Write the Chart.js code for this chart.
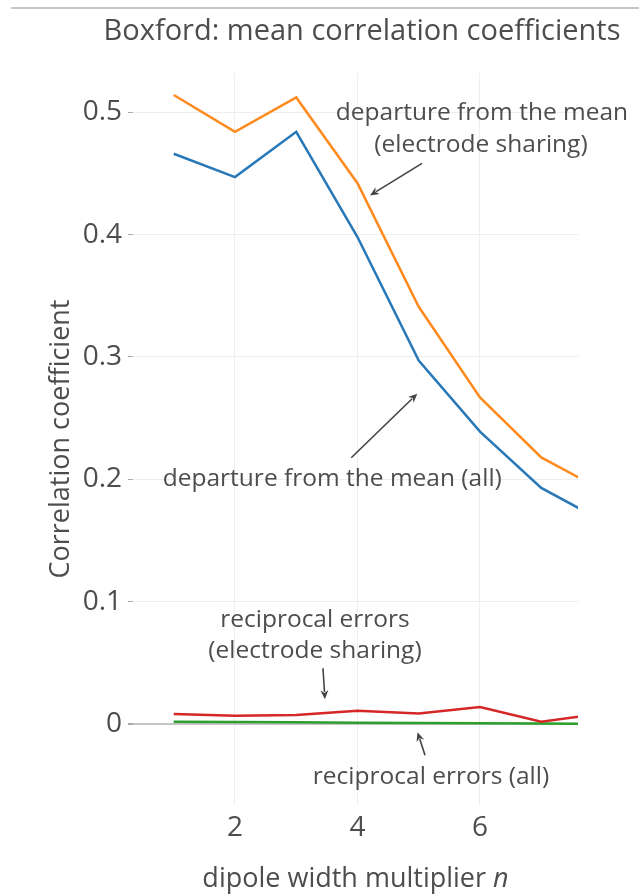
<!DOCTYPE html>
<html>
<head>
<meta charset="utf-8">
<script src="https://cdn.jsdelivr.net/npm/chart.js@4.4.1/dist/chart.umd.min.js"></script>
<style>
  html, body { margin: 0; padding: 0; background: #fff; }
  #wrap { width: 639px; height: 895px; position: relative; }
</style>
</head>
<body>
<div id="wrap"><canvas id="chart" width="639" height="895"></canvas></div>
<script>
// dipole width multiplier n
const dipoleN = [1, 2, 3, 4, 5, 6, 7, 8];
// mean correlation coefficients per series
const departureSharing = [0.514, 0.484, 0.512, 0.442, 0.341, 0.267, 0.218, 0.191];
const departureAll     = [0.466, 0.447, 0.484, 0.398, 0.297, 0.239, 0.193, 0.166];
const reciprocalSharing = [0.0083, 0.0070, 0.0076, 0.0110, 0.0087, 0.0140, 0.0020, 0.0087];
const reciprocalAll     = [0.0020, 0.0018, 0.0015, 0.0012, 0.0010, 0.0008, 0.0005, 0.0002];
// tick labels
const xTickValues = [2, 4, 6];
const yTickValues = [0, 0.1, 0.2, 0.3, 0.4, 0.5];

const FONT = '"Open Sans", "DejaVu Sans", sans-serif';
const TEXT = '#4d4d4d';

// callouts: arrow tip in data units, tail offset and text centres in px from the tail
const callouts = [
  { x: 4.204, y: 0.432, ax: 52, ay: -32,
    lines: [['departure from the mean', 60, -50], ['(electrode sharing)', 59, -18]] },
  { x: 4.976, y: 0.270, ax: -66, ay: 64,
    lines: [['departure from the mean (all)', -19, 21]] },
  { x: 3.469, y: 0.0204, ax: -2, ay: -31,
    lines: [['reciprocal errors', -8, -48], ['(electrode sharing)', -8, -17]] },
  { x: 4.98, y: -0.0065, ax: 7.5, ay: 23,
    lines: [['reciprocal errors (all)', 6, 22]] }
];

function toPoints(ys) { return dipoleN.map((n, i) => ({ x: n, y: ys[i] })); }

const decorations = {
  id: 'decorations',
  afterDraw(chart) {
    const ctx = chart.ctx;
    const xs = chart.scales.x, ys = chart.scales.y;
    const area = chart.chartArea;
    ctx.save();

    // frame line along the top
    ctx.strokeStyle = '#c6c6c6';
    ctx.lineWidth = 2;
    ctx.beginPath(); ctx.moveTo(11, 8); ctx.lineTo(639, 8); ctx.stroke();

    // chart title
    ctx.fillStyle = TEXT;
    ctx.font = '29px ' + FONT;
    ctx.textAlign = 'center';
    ctx.textBaseline = 'alphabetic';
    ctx.fillText('Boxford: mean correlation coefficients', 362, 39.5);

    // x axis title with italic n
    const normal = '27px ' + FONT, italic = 'italic 27px ' + FONT;
    const part1 = 'dipole width multiplier ', part2 = 'n';
    ctx.font = normal; const w1 = ctx.measureText(part1).width;
    ctx.font = italic; const w2 = ctx.measureText(part2).width;
    const cx = (area.left + area.right) / 2;
    let sx = cx - (w1 + w2) / 2;
    ctx.textAlign = 'left';
    ctx.font = normal; ctx.fillText(part1, sx, 887);
    ctx.font = italic; ctx.fillText(part2, sx + w1, 887);

    // callouts with arrows
    callouts.forEach(c => {
      const tx = xs.getPixelForValue(c.x), ty = ys.getPixelForValue(c.y);
      const bx = tx + c.ax, by = ty + c.ay;
      const ang = Math.atan2(ty - by, tx - bx);
      const head = 9, half = 4;
      ctx.strokeStyle = '#444';
      ctx.fillStyle = '#444';
      ctx.lineWidth = 1.6;
      ctx.beginPath();
      ctx.moveTo(bx, by);
      ctx.lineTo(tx - Math.cos(ang) * head * 0.8, ty - Math.sin(ang) * head * 0.8);
      ctx.stroke();
      ctx.beginPath();
      ctx.moveTo(tx, ty);
      ctx.lineTo(tx - Math.cos(ang) * head - Math.sin(ang) * half, ty - Math.sin(ang) * head + Math.cos(ang) * half);
      ctx.lineTo(tx - Math.cos(ang) * head * 0.7, ty - Math.sin(ang) * head * 0.7);
      ctx.lineTo(tx - Math.cos(ang) * head + Math.sin(ang) * half, ty - Math.sin(ang) * head - Math.cos(ang) * half);
      ctx.closePath();
      ctx.fill();

      ctx.fillStyle = TEXT;
      ctx.font = '24.5px ' + FONT;
      ctx.textAlign = 'center';
      ctx.textBaseline = 'middle';
      c.lines.forEach(([t, dx, dy]) => ctx.fillText(t, bx + dx, by + dy));
    });
    ctx.restore();
  }
};

const lineStyle = { borderWidth: 2.5, pointRadius: 0, tension: 0, fill: false, clip: 0 };

new Chart(document.getElementById('chart'), {
  type: 'line',
  data: {
    datasets: [
      Object.assign({ label: 'reciprocal errors (electrode sharing)', data: toPoints(reciprocalSharing), borderColor: '#d62728' }, lineStyle),
      Object.assign({ label: 'reciprocal errors (all)', data: toPoints(reciprocalAll), borderColor: '#2ca02c' }, lineStyle),
      Object.assign({ label: 'departure from the mean (electrode sharing)', data: toPoints(departureSharing), borderColor: '#ff8a1e' }, lineStyle),
      Object.assign({ label: 'departure from the mean (all)', data: toPoints(departureAll), borderColor: '#2878b8' }, lineStyle)
    ]
  },
  options: {
    responsive: false,
    animation: false,
    devicePixelRatio: 1,
    layout: { padding: { top: 73, right: 61, bottom: 0, left: 0 } },
    plugins: { legend: { display: false }, title: { display: false }, tooltip: { enabled: false } },
    scales: {
      x: {
        type: 'linear',
        min: 0.335, max: 7.6,
        afterFit(s) { s.height = 90; },
        afterBuildTicks(s) { s.ticks = xTickValues.map(v => ({ value: v })); },
        grid: { color: '#eeeeee', lineWidth: 1, drawTicks: false },
        border: { display: false },
        ticks: { font: { family: FONT, size: 28 }, color: TEXT, padding: 6, maxRotation: 0 }
      },
      y: {
        type: 'linear',
        min: -0.066, max: 0.532,
        afterFit(s) { s.width = 133; },
        afterBuildTicks(s) { s.ticks = yTickValues.map(v => ({ value: v })); },
        grid: {
          color: c => (c.tick && c.tick.value === 0) ? '#c4c4c4' : '#eeeeee',
          lineWidth: c => (c.tick && c.tick.value === 0) ? 2 : 1,
          drawTicks: true, tickLength: 5, tickColor: '#a8a8a8'
        },
        border: { display: false },
        ticks: {
          font: { family: FONT, size: 28 }, color: TEXT, padding: 6,
          callback: v => v === 0 ? '0' : v.toFixed(1)
        },
        title: { display: true, text: 'Correlation coefficient', color: TEXT,
                 font: { family: FONT, size: 27 }, padding: { top: 45, bottom: 0 } }
      }
    }
  },
  plugins: [decorations]
});
</script>
</body>
</html>
